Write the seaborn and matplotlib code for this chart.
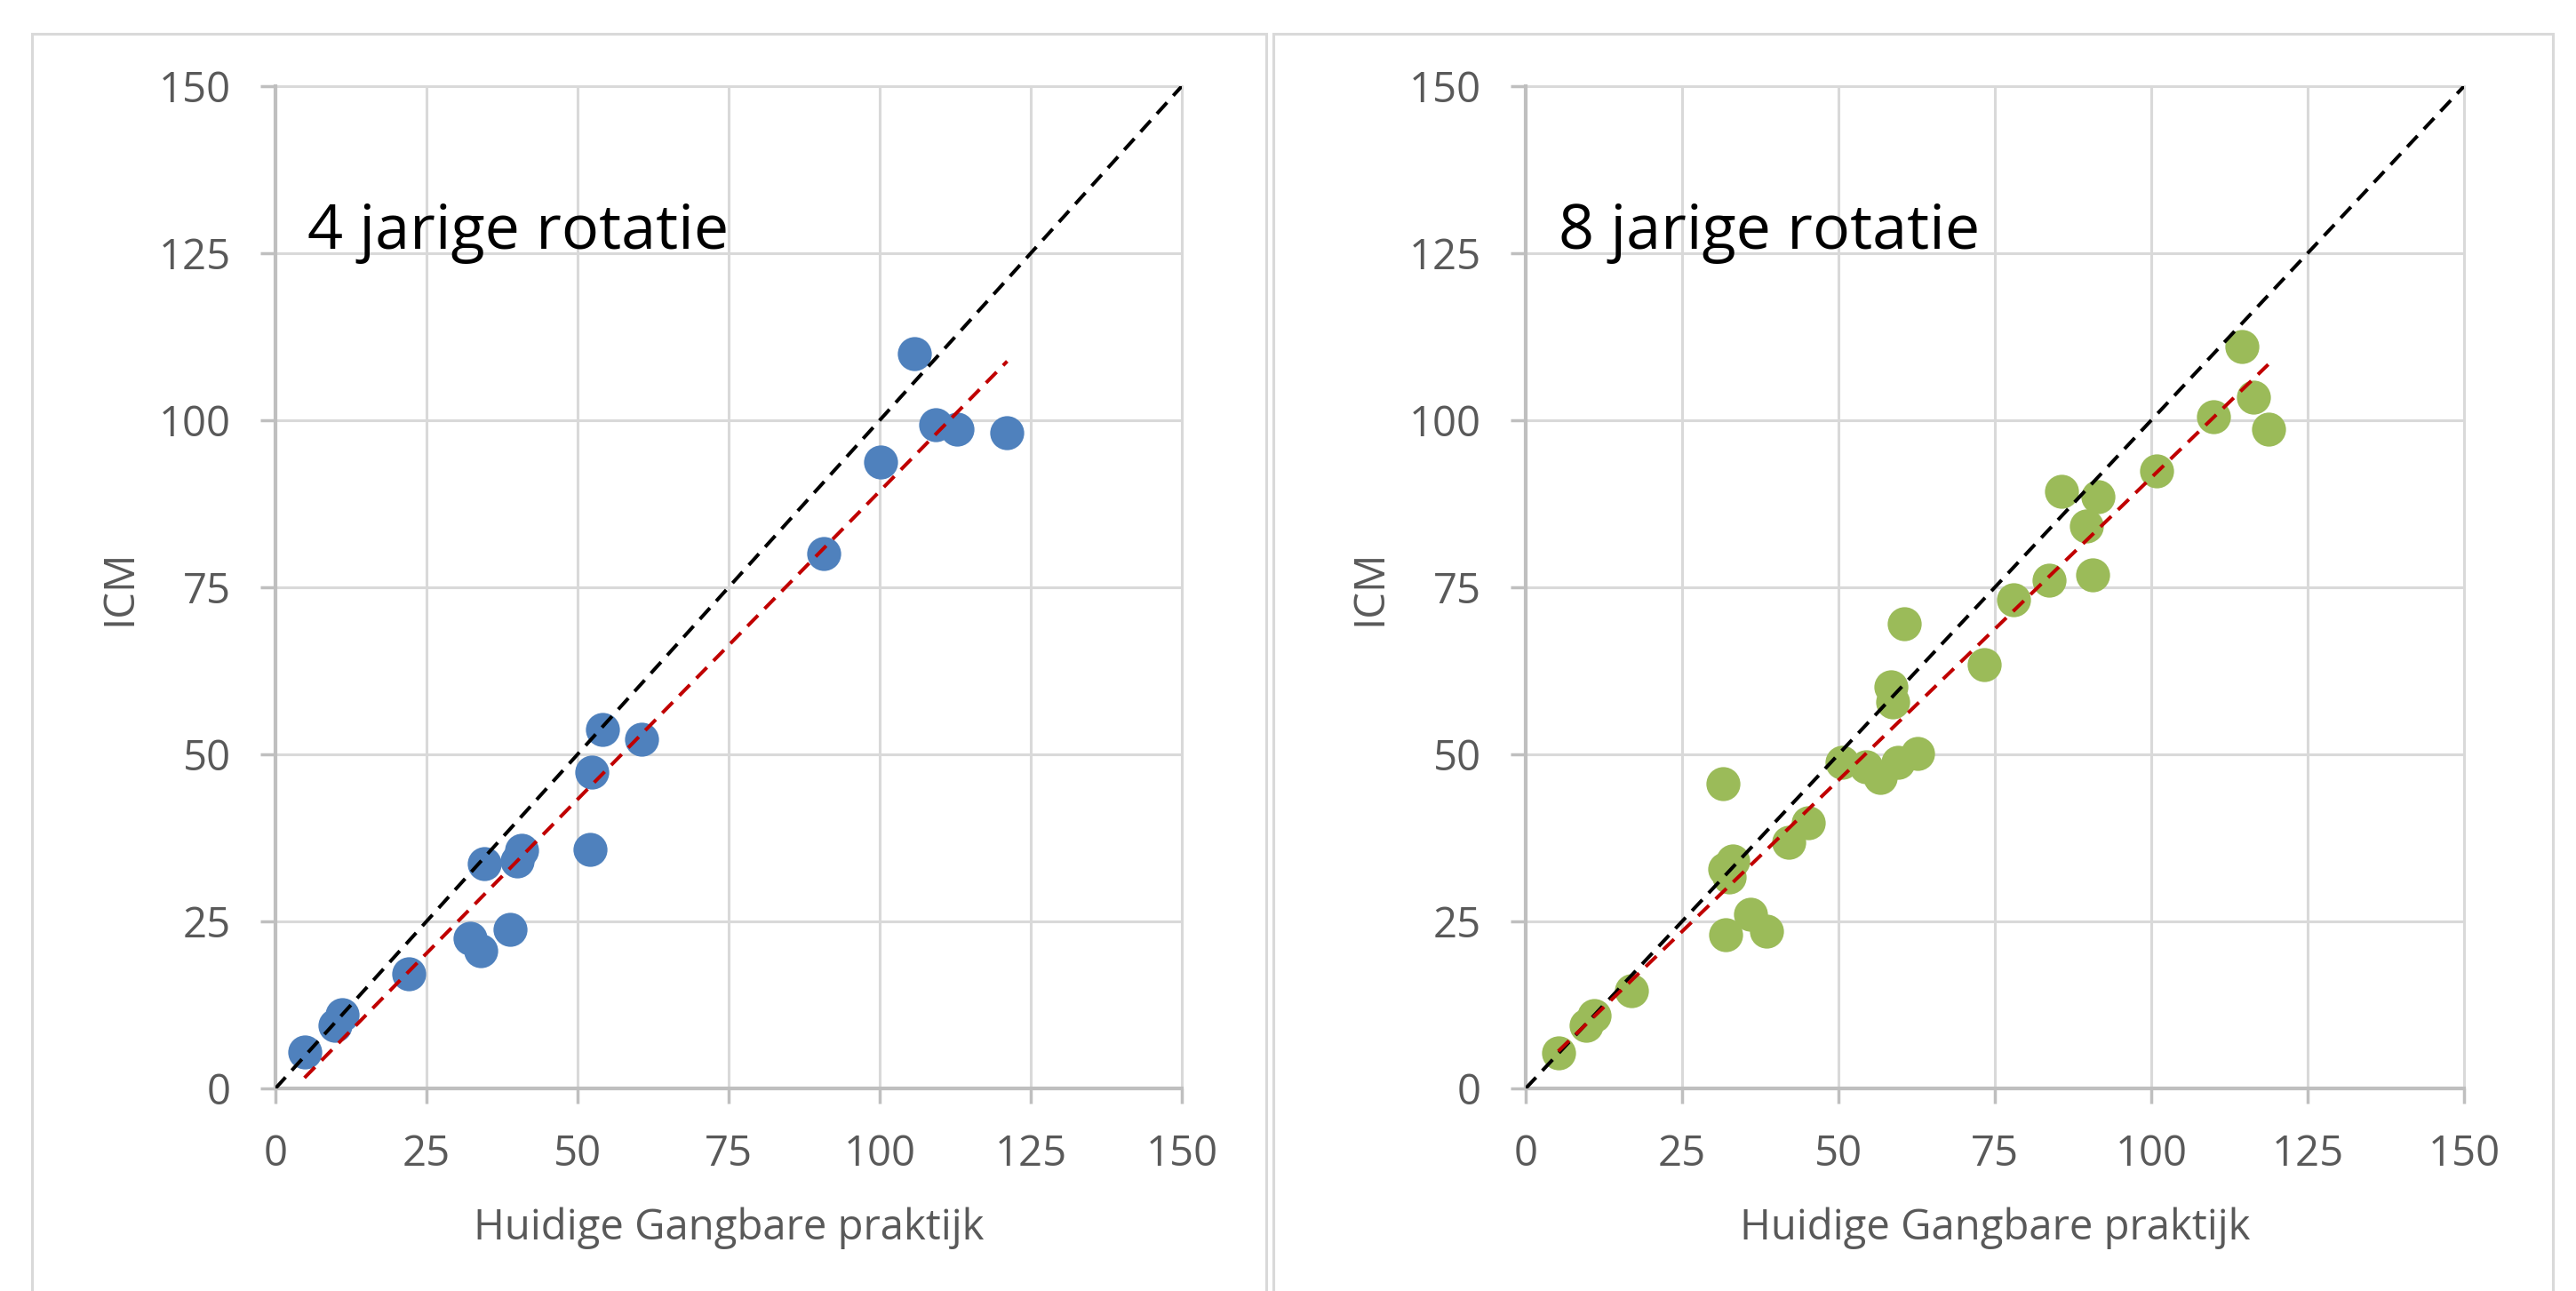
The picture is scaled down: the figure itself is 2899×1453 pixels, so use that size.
import numpy as np
import pandas as pd
import matplotlib
matplotlib.use("Agg")
import matplotlib.pyplot as plt
from matplotlib.patches import Rectangle
import seaborn as sns

# ---------------- data ----------------
left_title = "4 jarige rotatie"
left_x = [4.8, 9.9, 11.1, 22.0, 32.2, 33.9, 34.5, 38.8, 40.0, 40.8, 52.1, 52.3, 54.1, 60.6,
          90.8, 100.2, 105.8, 109.3, 112.8, 121.1]
left_y = [5.4, 9.5, 11.0, 17.1, 22.5, 20.6, 33.6, 23.8, 34.1, 35.7, 35.8, 47.3, 53.7, 52.3,
          80.1, 93.8, 110.0, 99.3, 98.7, 98.2]

right_title = "8 jarige rotatie"
right_x = [5.2, 9.7, 11.0, 16.9, 31.6, 32.0, 31.8, 33.1, 32.5, 36.0, 38.5, 42.0, 45.1, 50.5,
           54.4, 56.7, 59.5, 62.7, 58.4, 58.6, 60.5, 73.3, 78.0, 83.7, 85.7, 91.5, 89.6,
           90.6, 100.9, 110.0, 114.5, 116.4, 118.7]
right_y = [5.3, 9.4, 10.9, 14.6, 45.6, 23.0, 32.9, 34.1, 31.7, 26.0, 23.6, 36.8, 39.7, 48.8,
           48.2, 46.6, 48.8, 50.1, 60.1, 57.8, 69.5, 63.4, 73.1, 76.0, 89.4, 88.5, 84.2,
           76.8, 92.4, 100.5, 111.0, 103.4, 98.7]

diag = [0, 150]                     # 1:1 reference line
ticks = [0, 25, 50, 75, 100, 125, 150]
x_label = "Huidige Gangbare praktijk"
y_label = "ICM"

blue = "#4F81BD"
green = "#9BBB59"
red = "#C00000"
grid_c = "#D9D9D9"
axis_c = "#BFBFBF"
text_c = "#595959"

# ---------------- figure ----------------
sns.set_theme(style="white")
plt.rcParams["font.family"] = ["Open Sans", "DejaVu Sans"]

W, H = 2899, 1453
fig = plt.figure(figsize=(W / 100, H / 100), dpi=100)
fig.patch.set_facecolor("white")

# panel (chart area) borders
for (l, r) in [(36, 1425), (1433, 2873)]:
    fig.patches.append(Rectangle((l / W, -0.05), (r - l) / W, 1 - 38 / H + 0.05,
                                 transform=fig.transFigure, fill=False,
                                 edgecolor=grid_c, lw=2.2, zorder=0))

ax_bottom = 1 - 1225 / H
ax_height = (1225 - 97) / H
ax1 = fig.add_axes([310 / W, ax_bottom, (1330 - 310) / W, ax_height])
ax2 = fig.add_axes([1717 / W, ax_bottom, (2773 - 1717) / W, ax_height])

dash = (0, (4.2, 2.6))
line_w = 2.9


def draw(ax, x, y, color, title, width_px):
    ax.set_axisbelow(True)
    sns.scatterplot(x=x, y=y, ax=ax, color=color, s=760, linewidth=0, zorder=3, legend=False)
    sns.lineplot(x=diag, y=diag, ax=ax, color="black", lw=line_w, linestyle=dash,
                 zorder=4, legend=False)
    sns.regplot(x=np.array(x), y=np.array(y), ax=ax, scatter=False, ci=None, truncate=True,
                line_kws=dict(color=red, lw=line_w, linestyle=dash, zorder=5))
    ax.set_xlim(0, 150)
    ax.set_ylim(0, 150)
    ax.set_xticks(ticks)
    ax.set_yticks(ticks)
    ax.set_xticklabels([str(t) for t in ticks])
    ax.set_yticklabels([str(t) for t in ticks])
    ax.grid(True, color=grid_c, lw=2.2)
    for gl in ax.get_xgridlines() + ax.get_ygridlines():
        gl.set_clip_on(False)
    for s in ["top", "right"]:
        ax.spines[s].set_visible(False)
    for s in ["left", "bottom"]:
        ax.spines[s].set_color(axis_c)
        ax.spines[s].set_linewidth(3.0)
    ax.tick_params(axis="both", which="major", direction="out", length=12.2, width=2.5,
                   color=axis_c, labelsize=34, labelcolor=text_c, pad=24,
                   left=True, bottom=True)
    ax.set_xlabel(x_label, fontsize=34, color=text_c)
    ax.set_ylabel(y_label, fontsize=34, color=text_c)
    ax.xaxis.set_label_coords(0.5, (1225 - 1358) / (1225 - 97))
    ax.yaxis.set_label_coords(-(310 - 158) / width_px, 0.5)
    ax.text(5.3, 125.6, title, fontsize=50.5, color="black", ha="left", va="baseline",
            zorder=6)


draw(ax1, left_x, left_y, blue, left_title, 1330 - 310)
draw(ax2, right_x, right_y, green, right_title, 2773 - 1717)

fig.savefig("out.png", dpi=100, facecolor="white")
